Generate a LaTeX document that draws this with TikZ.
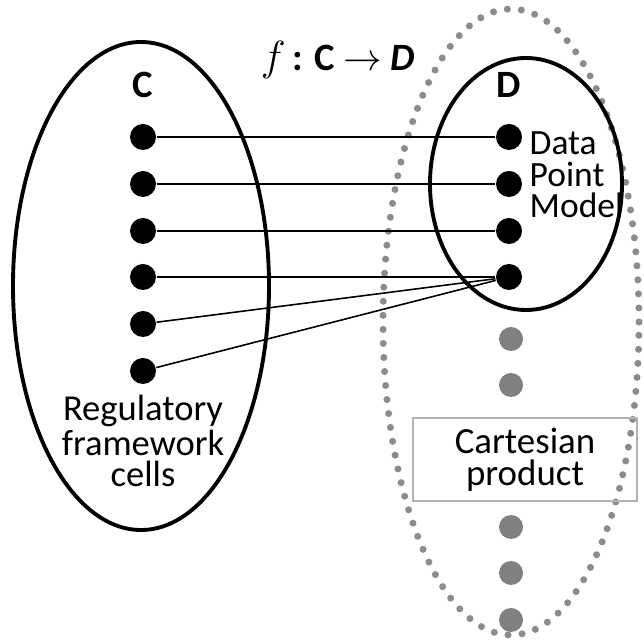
\documentclass[tikz,border=0pt]{standalone}
\usepackage{fontspec}
\setmainfont{Carlito}
\usepackage{amsmath}
\tikzset{
  bigset/.style={line width=1.1pt},
  dottedset/.style={draw=black!45,line width=2pt,line cap=round,dash pattern=on 0pt off 4pt},
  blackdot/.style={circle,fill=black,inner sep=0pt,minimum size=0.26cm},
  greydot/.style={circle,fill=black!50,inner sep=0pt,minimum size=0.24cm},
  mapline/.style={line width=0.45pt},
  setlabel/.style={font=\fontsize{11}{13}\selectfont\bfseries},
  textlabel/.style={inner sep=0pt,font=\fontsize{10.4}{8.9}\selectfont}
}
\begin{document}
\begin{tikzpicture}
  \useasboundingbox (0,0) rectangle (6.44,-6.42);
  % the three sets
  \draw[dottedset] (5.11,-3.22) ellipse (1.28 and 3.13);
  \draw[bigset] (1.41,-2.86) ellipse (1.28 and 2.44);
  \draw[bigset] (5.26,-1.84) ellipse (0.96 and 1.26);
  \node[font=\fontsize{11}{13}\selectfont] (map) at (3.38,-0.6) {{\fontsize{13}{13}\selectfont$f$}\,\textbf{: C} $\rightarrow$ \textbf{\textit{D}}};
  \node[setlabel] (clabel) at (1.43,-0.85) {C};
  \node[setlabel] (dlabel) at (5.09,-0.85) {D};
  % cells of C
  \node[blackdot] (c1) at (1.43,-1.37) {};
  \node[blackdot] (c2) at (1.43,-1.84) {};
  \node[blackdot] (c3) at (1.43,-2.31) {};
  \node[blackdot] (c4) at (1.43,-2.77) {};
  \node[blackdot] (c5) at (1.43,-3.24) {};
  \node[blackdot] (c6) at (1.43,-3.71) {};
  \node[textlabel,align=center] (reg) at (1.43,-4.41) {Regulatory\\framework\\cells};
  % points of D
  \node[blackdot] (d1) at (5.09,-1.37) {};
  \node[blackdot] (d2) at (5.09,-1.84) {};
  \node[blackdot] (d3) at (5.09,-2.31) {};
  \node[blackdot] (d4) at (5.09,-2.77) {};
  \node[textlabel,align=left,anchor=west,font=\fontsize{10.1}{8.9}\selectfont] (dpm) at (5.29,-1.75) {Data\\Point\\Model};
  % rest of the product
  \node[greydot] (g1) at (5.11,-3.39) {};
  \node[greydot] (g2) at (5.11,-3.85) {};
  \node[greydot] (g3) at (5.11,-5.27) {};
  \node[greydot] (g4) at (5.11,-5.73) {};
  \node[greydot] (g5) at (5.11,-6.20) {};
  \node[draw=black!30,line width=0.4pt,minimum width=2.24cm,minimum height=0.83cm,inner sep=0pt,align=center,font=\fontsize{10.5}{9.1}\selectfont] (cart) at (5.25,-4.595) {Cartesian\\product};
  % the map f
  \draw[mapline] (c1) -- (d1);
  \draw[mapline] (c2) -- (d2);
  \draw[mapline] (c3) -- (d3);
  \draw[mapline] (c4) -- (d4);
  \draw[mapline] (c5) -- (d4);
  \draw[mapline] (c6) -- (d4);
\end{tikzpicture}
\end{document}
